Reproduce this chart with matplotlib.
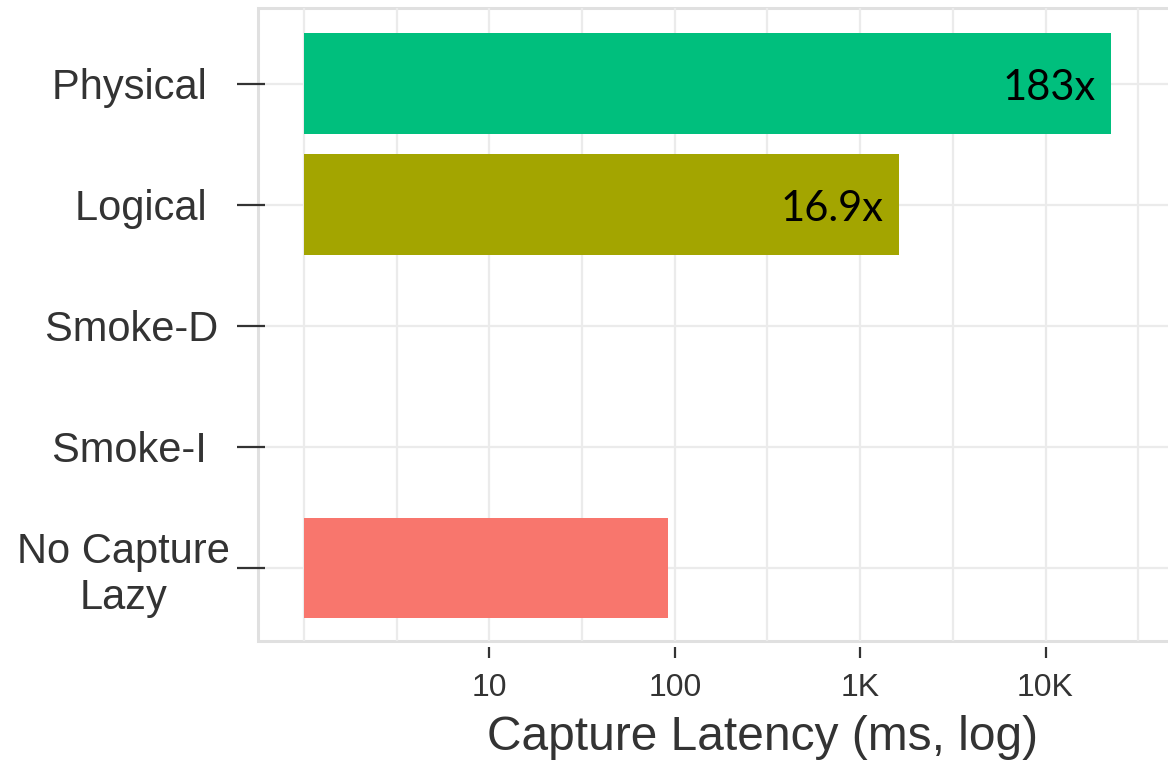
import numpy as np
import matplotlib.pyplot as plt

# data (ms)
methods = ["Physical", "Logical", "Smoke-D", "Smoke-I", "No Capture\nLazy"]
latency = [22650, 1626, np.nan, np.nan, 92]
colors = ["#00BF7D", "#A3A500", "#00B0F6", "#E76BF3", "#F8766D"]
speedup = ["183x", "16.9x", "", "", ""]
xticks = [10, 100, 1000, 10000]
xtick_labels = ["10", "100", "1K", "10K"]
ytick_labels = ["Physical  ", "Logical  ", "Smoke-D ", "Smoke-I  ", "No Capture\nLazy"]

plt.rcParams['font.family'] = ['Liberation Sans', 'DejaVu Sans']
ink = "#333333"

fig = plt.figure(figsize=(11.68, 7.61), dpi=100)
ax = fig.add_axes([258/1168, 120/761, (1268-258)/1168, (641-8)/761])

y = np.arange(len(methods))
vals = np.array(latency, dtype=float)
ax.barh(y, vals - 1, left=1, height=0.83, color=colors, zorder=2)

for yi, v, s in zip(y, vals, speedup):
    if s:
        ax.annotate(s, (v, yi), xytext=(-11, -3), textcoords="offset points",
                    ha="right", va="center", fontsize=30, family="Lato",
                    color="black", zorder=3)

ax.set_xscale("log")
ax.set_xlim(10 ** (-0.248), 10 ** 5.2)
ax.set_ylim(4.605, -0.625)

# gridlines every half decade, labels only on full decades
half = [10 ** (k / 2) for k in range(0, 11)]
ax.set_xticks(xticks)
ax.set_xticklabels(xtick_labels)
ax.set_xticks([h for h in half if h not in xticks], minor=True)
ax.tick_params(axis="x", which="minor", length=0, labelbottom=False)
ax.tick_params(axis="x", which="major", length=8, width=1.6, color=ink, pad=11,
               labelsize=23, labelcolor=ink)

ax.set_yticks(y)
ax.tick_params(axis="y", length=20, width=1.6, color=ink, pad=5,
               labelsize=30, labelcolor=ink)

ax.grid(True, which="both", axis="x", color="#EBEBEB", linewidth=1.6, zorder=0)
ax.grid(True, which="major", axis="y", color="#EBEBEB", linewidth=1.6, zorder=0)
ax.set_axisbelow(True)

for side in ["top", "right", "bottom", "left"]:
    ax.spines[side].set_visible(False)
ax.spines["bottom"].set_position(("outward", 4))
ax.spines["left"].set_position(("outward", -5))
ax.patch.set_edgecolor("#E0E0E0")
ax.patch.set_linewidth(2.2)

ax.set_xlabel("Capture Latency (ms, log)", fontsize=34.5, color=ink, labelpad=8.5)
ax.set_yticklabels(ytick_labels, multialignment="center")

fig.savefig("out.png", dpi=100)
